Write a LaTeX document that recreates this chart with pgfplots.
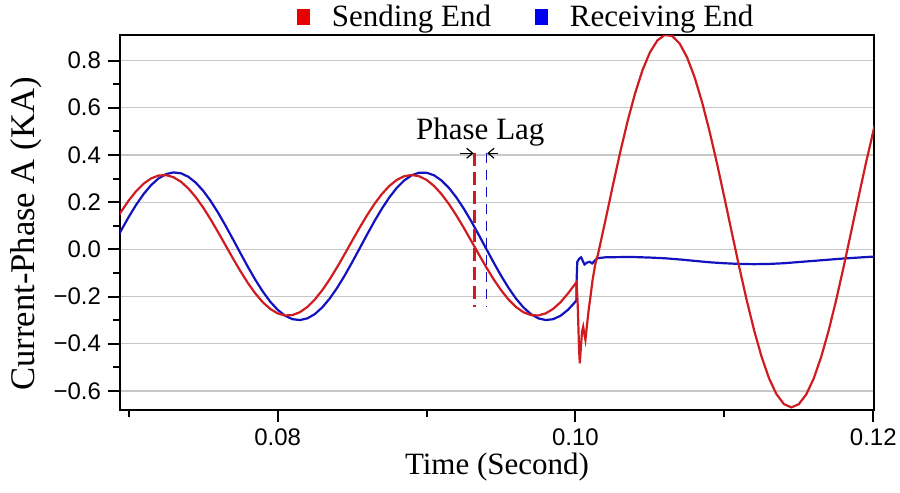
\documentclass[border=0pt]{standalone}
\usepackage{fontspec}
\setmainfont{Liberation Serif}
\newfontfamily\arialfont{Liberation Sans}
\usepackage{pgfplots}
\pgfplotsset{compat=1.18}
\usetikzlibrary{arrows.meta,calc}
\definecolor{cred}{RGB}{208,28,32}
\definecolor{cblue}{RGB}{18,18,190}
\definecolor{lred}{RGB}{232,0,0}
\definecolor{lblue}{RGB}{0,0,240}
\begin{document}
\begin{tikzpicture}
\begin{axis}[name=ax, scale only axis, width=377pt, height=187.25pt,
  xmin=0.069412, xmax=0.12005, ymin=-0.681, ymax=0.906,
  scaled x ticks=false, scaled y ticks=false,
  xtick={0.08,0.10,0.12}, xticklabels={0.08,0.10,0.12},
  minor xtick={0.07,0.09,0.11},
  ytick={-0.6,-0.4,-0.2,0,0.2,0.4,0.6,0.8},
  yticklabels={−0.6,−0.4,−0.2,0.0,0.2,0.4,0.6,0.8},
  minor ytick={-0.5,-0.3,-0.1,0.1,0.3,0.5,0.7},
  tick align=outside, xtick pos=bottom, ytick pos=left,
  major tick length=6pt, minor tick length=3.5pt,
  tick style={black, line width=1pt},
  axis line style={line width=1pt},
  ymajorgrids, major grid style={color=black!22, line width=0.6pt},
  tick label style={font=\arialfont\fontsize{12}{12}\selectfont},
  xlabel={Time (Second)}, ylabel={Current-Phase A (KA)},
  xlabel style={font=\fontsize{15.5}{16}\selectfont, at={(axis description cs:0.5,0)}, anchor=center, yshift=-28.5pt},
  ylabel style={font=\fontsize{17.3}{18}\selectfont, at={(axis description cs:-0.1247,0.47)}, anchor=center},
  legend style={at={(axis description cs:0.54,1)}, anchor=center, yshift=9.25pt,
    draw=none, fill=none, font=\fontsize{15.5}{16}\selectfont,
    /tikz/every even column/.append style={column sep=20pt}},
  legend columns=2,
]
\addlegendimage{legend image code/.code={\fill[lred] (-3pt,-3.6pt) rectangle (3pt,3.6pt); \path (12pt,0pt);}}
\addlegendentry{Sending End}
\addlegendimage{legend image code/.code={\fill[lblue] (-3pt,-3.6pt) rectangle (3pt,3.6pt); \path (12pt,0pt);}}
\addlegendentry{Receiving End}

% Receiving end
\addplot[forget plot, cblue, line width=1.1pt] coordinates {
(0.0690,0.0228)(0.0695,0.0813)(0.0700,0.1373)(0.0705,0.1889)(0.0710,0.2343)
(0.0715,0.2719)(0.0720,0.3003)(0.0725,0.3185)(0.0730,0.3258)(0.0735,0.3222)
(0.0740,0.3075)(0.0745,0.2824)(0.0750,0.2478)(0.0755,0.2048)(0.0760,0.1551)
(0.0765,0.1003)(0.0770,0.0425)(0.0775,-0.0165)(0.0780,-0.0743)(0.0785,-0.1291)
(0.0790,-0.1788)(0.0795,-0.2218)(0.0800,-0.2564)(0.0805,-0.2815)(0.0810,-0.2962)
(0.0815,-0.2998)(0.0820,-0.2925)(0.0825,-0.2743)(0.0830,-0.2459)(0.0835,-0.2083)
(0.0840,-0.1629)(0.0845,-0.1113)(0.0850,-0.0553)(0.0855,0.0032)(0.0860,0.0620)
(0.0865,0.1190)(0.0870,0.1723)(0.0875,0.2200)(0.0880,0.2603)(0.0885,0.2919)
(0.0890,0.3136)(0.0895,0.3246)(0.0900,0.3246)(0.0905,0.3136)(0.0910,0.2919)
(0.0915,0.2603)(0.0920,0.2200)(0.0925,0.1723)(0.0930,0.1190)(0.0935,0.0620)
(0.0940,0.0032)(0.0945,-0.0553)(0.0950,-0.1113)(0.0955,-0.1629)(0.0960,-0.2083)
(0.0965,-0.2459)(0.0970,-0.2743)(0.0975,-0.2925)(0.0980,-0.2998)(0.0985,-0.2962)
(0.0990,-0.2815)(0.0995,-0.2564)(0.1000,-0.2218)(0.10006,-0.215)(0.10008,-0.13)
(0.10012,-0.054)(0.10025,-0.040)(0.10038,-0.034)(0.10050,-0.050)(0.10061,-0.064)
(0.10078,-0.056)(0.10096,-0.053)(0.10112,-0.060)(0.10130,-0.048)(0.10146,-0.038)
(0.1020,-0.034)(0.1030,-0.033)(0.1040,-0.033)(0.1050,-0.035)(0.1060,-0.038)
(0.1070,-0.043)(0.1080,-0.049)(0.1090,-0.055)(0.1100,-0.059)(0.1110,-0.062)
(0.1120,-0.063)(0.1130,-0.062)(0.1140,-0.059)(0.1150,-0.054)(0.1160,-0.049)
(0.1170,-0.044)(0.1180,-0.039)(0.1190,-0.035)(0.1200,-0.031)(0.1201,-0.031)
};

% Sending end
\addplot[forget plot, cred, line width=1.1pt] coordinates {
(0.0690,0.1091)(0.0695,0.1606)(0.0700,0.2069)(0.0705,0.2466)(0.0710,0.2781)
(0.0715,0.3004)(0.0720,0.3126)(0.0725,0.3144)(0.0730,0.3056)(0.0735,0.2866)
(0.0740,0.2581)(0.0745,0.2210)(0.0750,0.1767)(0.0755,0.1267)(0.0760,0.0728)
(0.0765,0.0170)(0.0770,-0.0388)(0.0775,-0.0927)(0.0780,-0.1427)(0.0785,-0.1870)
(0.0790,-0.2241)(0.0795,-0.2526)(0.0800,-0.2716)(0.0805,-0.2804)(0.0810,-0.2786)
(0.0815,-0.2664)(0.0820,-0.2441)(0.0825,-0.2126)(0.0830,-0.1729)(0.0835,-0.1266)
(0.0840,-0.0751)(0.0845,-0.0203)(0.0850,0.0357)(0.0855,0.0911)(0.0860,0.1439)
(0.0865,0.1922)(0.0870,0.2342)(0.0875,0.2686)(0.0880,0.2941)(0.0885,0.3097)
(0.0890,0.3150)(0.0895,0.3097)(0.0900,0.2941)(0.0905,0.2686)(0.0910,0.2342)
(0.0915,0.1922)(0.0920,0.1439)(0.0925,0.0911)(0.0930,0.0357)(0.0935,-0.0203)
(0.0940,-0.0751)(0.0945,-0.1266)(0.0950,-0.1729)(0.0955,-0.2126)(0.0960,-0.2441)
(0.0965,-0.2664)(0.0970,-0.2786)(0.0975,-0.2804)(0.0980,-0.2716)(0.0985,-0.2526)
(0.0990,-0.2241)(0.0995,-0.1870)(0.1000,-0.145)(0.10008,-0.138)(0.10016,-0.25)
(0.10024,-0.42)(0.10029,-0.483)(0.10036,-0.42)(0.10044,-0.35)(0.10052,-0.328)
(0.10060,-0.36)(0.10067,-0.384)(0.10076,-0.33)(0.10088,-0.26)(0.10101,-0.20)
(0.10115,-0.13)(0.10134,-0.06)(0.1015,-0.025)(0.1020,0.1191)(0.1025,0.2671)
(0.1030,0.4099)(0.1035,0.5424)(0.1040,0.6600)(0.1045,0.7586)(0.1050,0.8344)
(0.1055,0.8850)(0.1060,0.9083)(0.1065,0.9039)(0.1070,0.8716)(0.1075,0.8128)
(0.1080,0.7293)(0.1085,0.6243)(0.1090,0.5015)(0.1095,0.3651)(0.1100,0.2199)
(0.1105,0.0713)(0.1110,-0.0755)(0.1115,-0.2155)(0.1120,-0.3436)(0.1125,-0.4553)
(0.1130,-0.5465)(0.1135,-0.6141)(0.1140,-0.6559)(0.1145,-0.6700)(0.1150,-0.6562)
(0.1155,-0.6149)(0.1160,-0.5476)(0.1165,-0.4565)(0.1170,-0.3452)(0.1175,-0.2173)
(0.1180,-0.0773)(0.1185,0.0694)(0.1190,0.2180)(0.1195,0.3632)(0.1200,0.4998)
(0.1201,0.5256)
};

% phase lag markers
\addplot[forget plot, cred, line width=1.2pt, dash pattern=on 6.5pt off 3pt] coordinates {(0.09321,0.407)(0.09321,-0.243)};
\addplot[forget plot, cblue, line width=0.9pt, dash pattern=on 5pt off 3.5pt] coordinates {(0.09402,0.407)(0.09402,-0.243)};
\addplot[forget plot, black, line width=0.6pt, -{Straight Barb[length=3pt,width=5pt]}] coordinates {(0.09227,0.407)(0.09316,0.407)};
\addplot[forget plot, black, line width=0.6pt, -{Straight Barb[length=3pt,width=5pt]}] coordinates {(0.09482,0.407)(0.09407,0.407)};
\node[font=\fontsize{15.5}{16}\selectfont] at (axis cs:0.09361,0.498) {Phase Lag};
\end{axis}
\pgfresetboundingbox
\path ($(ax.south west)+(-60pt,-41pt)$) rectangle ($(ax.north east)+(13pt,17.75pt)$);
\end{tikzpicture}
\end{document}
